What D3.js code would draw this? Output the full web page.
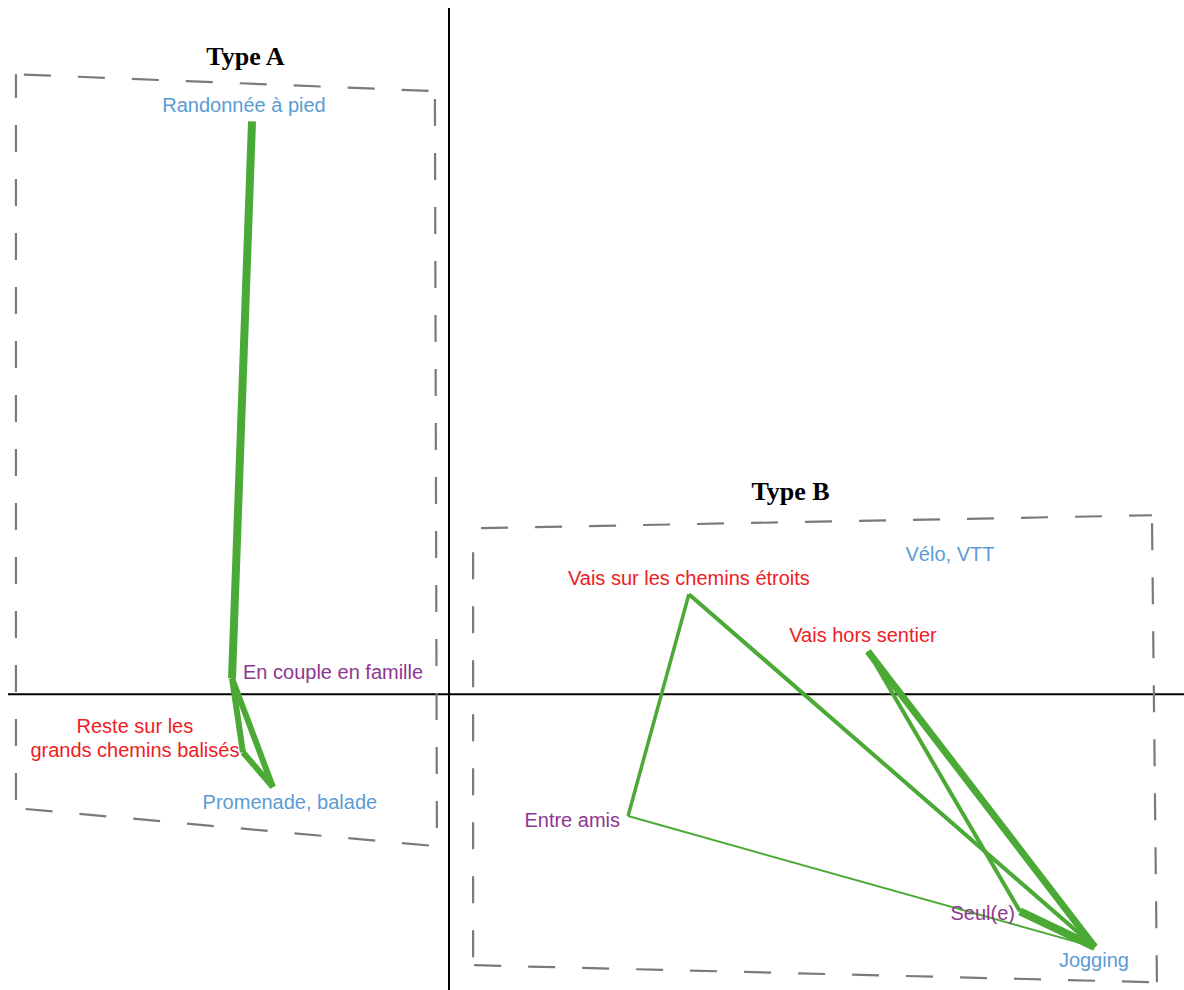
<!DOCTYPE html>
<html>
<head>
<meta charset="utf-8">
<script src="https://cdn.jsdelivr.net/npm/d3@7"></script>
<style>
  html, body { margin: 0; padding: 0; background: #fff; }
  svg { display: block; }
</style>
</head>
<body>
<svg id="chart" width="1184" height="990"></svg>
<script>
// ---------- DATA ----------
const nodeNames = ["Randonnée à pied", "En couple en famille", "Reste sur les\ngrands chemins balisés",
  "Promenade, balade", "Vélo, VTT", "Vais sur les chemins étroits", "Vais hors sentier",
  "Entre amis", "Seul(e)", "Jogging"];
const nodeGroups = ["activity", "company", "path", "activity", "activity", "path", "path",
  "company", "company", "activity"];
const nodeX = [-0.670, -0.738, -0.701, -0.599, 1.704, 0.816, 1.425, 0.609, 1.942, 2.197];
const nodeY = [ 1.937,  0.054, -0.196, -0.314, 0.470, 0.338, 0.145, -0.412, -0.734, -0.855];

const edgeFrom   = [0, 1, 1, 2, 7, 5, 7, 6, 6, 8];
const edgeTo     = [1, 2, 3, 3, 5, 9, 9, 9, 8, 9];
const edgeWeight = [8, 6, 6, 6, 3.5, 4, 2, 7, 4, 8];

const clusterNames = ["Type A", "Type B"];
const clusterX = [[-1.473, -0.048, -0.041, -1.473], [0.082, 2.391, 2.408, 0.082]];
const clusterY = [[ 2.096,  2.039, -0.514, -0.385], [0.561, 0.605, -0.974, -0.916]];

// ---------- LAYOUT / STYLE ----------
const W = 1184, H = 990;
const x = d3.scaleLinear().domain([-1.5, 2.5]).range([8, 1184]);
const y = d3.scaleLinear().domain([-1, 2.32]).range([990, 8]);
const widthScale = d3.scaleLinear().domain([0, 10]).range([0, 10]);
const groupColor = { activity: "#5B9BD5", company: "#8E3790", path: "#EE1C25" };
// label offsets in pixels relative to node: [dx, dy, anchor]
const labelLayout = [
  [-8, -9, "middle"], [11, 1, "start"], [-108, -19, "middle"], [17, 22, "middle"],
  [0, 6, "middle"], [0, -9, "middle"], [-5, -9, "middle"], [-8, 11, "end"],
  [-5, 9, "end"], [-1, 20, "middle"]
];
const titleOffset = [[20, -9], [-22, -15]];

const svg = d3.select("#chart");

// axes through origin
svg.append("line").attr("x1", x(0)).attr("x2", x(0)).attr("y1", 8).attr("y2", H)
  .attr("stroke", "#000").attr("stroke-width", 2);
svg.append("line").attr("x1", 8).attr("x2", W).attr("y1", y(0)).attr("y2", y(0))
  .attr("stroke", "#000").attr("stroke-width", 2);

// dashed cluster boxes
clusterNames.forEach((name, ci) => {
  const xs = clusterX[ci], ys = clusterY[ci];
  const g = svg.append("g");
  for (let i = 0; i < 4; i++) {
    const j = (i + 1) % 4;
    g.append("line")
      .attr("x1", x(xs[i])).attr("y1", y(ys[i]))
      .attr("x2", x(xs[j])).attr("y2", y(ys[j]))
      .attr("stroke", "#7a7a7a").attr("stroke-width", 2.2)
      .attr("stroke-dasharray", "27,27").attr("stroke-dashoffset", -8);
  }
  const cx = (x(xs[0]) + x(xs[1])) / 2;
  const top = Math.min(y(ys[0]), y(ys[1]));
  g.append("text").text(name)
    .attr("x", cx + titleOffset[ci][0]).attr("y", top + titleOffset[ci][1])
    .attr("text-anchor", "middle")
    .attr("font-family", "'Liberation Serif', 'Times New Roman', serif")
    .attr("font-weight", "bold").attr("font-size", 26).attr("fill", "#000");
});

// edges
svg.append("g").selectAll("line").data(edgeFrom.map((f, i) => i)).join("line")
  .attr("x1", i => x(nodeX[edgeFrom[i]])).attr("y1", i => y(nodeY[edgeFrom[i]]))
  .attr("x2", i => x(nodeX[edgeTo[i]])).attr("y2", i => y(nodeY[edgeTo[i]]))
  .attr("stroke", "#4BAA35").attr("stroke-width", i => widthScale(edgeWeight[i]))
  .attr("stroke-linecap", "butt").attr("stroke-linejoin", "miter");

// labels
const lab = svg.append("g").selectAll("text").data(nodeNames.map((n, i) => i)).join("text")
  .attr("x", i => x(nodeX[i]) + labelLayout[i][0])
  .attr("y", i => y(nodeY[i]) + labelLayout[i][1])
  .attr("text-anchor", i => labelLayout[i][2])
  .attr("font-family", "'Liberation Sans', Arial, sans-serif")
  .attr("font-size", 20)
  .attr("fill", i => groupColor[nodeGroups[i]]);
lab.each(function(i) {
  const lines = nodeNames[i].split("\n");
  const t = d3.select(this);
  lines.forEach((ln, k) => {
    t.append("tspan").attr("x", x(nodeX[i]) + labelLayout[i][0])
      .attr("dy", k === 0 ? 0 : 24).text(ln);
  });
});
</script>
</body>
</html>
